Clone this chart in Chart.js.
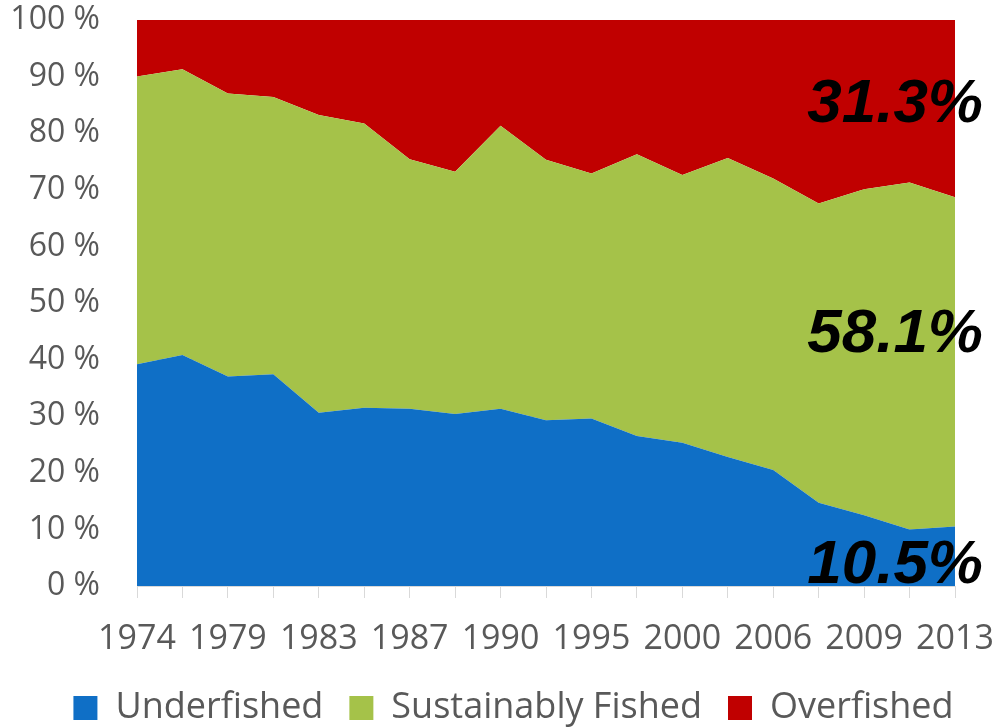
<!DOCTYPE html>
<html>
<head>
<meta charset="utf-8">
<script src="https://cdn.jsdelivr.net/npm/chart.js@4/dist/chart.umd.min.js"></script>
<style>
  html, body { margin: 0; padding: 0; background: #ffffff; }
  #wrap { width: 994px; height: 727px; position: relative; }
</style>
</head>
<body>
<div id="wrap"><canvas id="c"></canvas></div>
<script>
// ---- data ----
const years = ["1974","1977","1979","1981","1983","1985","1987","1989","1990","1992",
               "1995","1997","2000","2004","2006","2008","2009","2011","2013"];
const tickLabels = ["1974","1979","1983","1987","1990","1995","2000","2006","2009","2013"];
const underfished = [39.2, 40.8, 37.0, 37.4, 30.6, 31.5, 31.3, 30.4, 31.3, 29.3,
                     29.6, 26.5, 25.3, 22.8, 20.5, 14.7, 12.5, 10.0, 10.5];
const sustainablyFished = [50.8, 50.5, 50.0, 49.0, 52.6, 50.2, 44.1, 42.8, 50.0, 46.0,
                           43.3, 49.8, 47.3, 52.8, 51.5, 52.9, 57.6, 61.3, 58.2];
const overfished = [10.0, 8.7, 13.0, 13.6, 16.8, 18.3, 24.6, 26.8, 18.7, 24.7,
                    27.1, 23.7, 27.4, 24.4, 28.0, 32.4, 29.9, 28.7, 31.3];
const seriesNames = ["Underfished", "Sustainably Fished", "Overfished"];
const yTicks = [0, 10, 20, 30, 40, 50, 60, 70, 80, 90, 100];
const endLabels = ["31.3%", "58.1%", "10.5%"];
const endLabelLevels = [82, 41.3, 0.5];   // y value of each label's baseline

const colors = ["#0F6FC6", "#A5C249", "#C00000"];
const gray = "#595959";

const endLabelPlugin = {
  id: 'endLabels',
  afterLayout(chart) {
    // shift the legend to the right, as in the reference
    const lg = chart.legend;
    if (lg) { lg.left += 36; lg.right += 36; }
  },
  afterDatasetsDraw(chart) {
    const ctx = chart.ctx, y = chart.scales.y, area = chart.chartArea;
    ctx.save();
    ctx.font = 'italic bold 62px "Liberation Sans", Arial, sans-serif';
    ctx.fillStyle = '#000000';
    ctx.textAlign = 'right';
    ctx.textBaseline = 'alphabetic';
    endLabels.forEach((t, i) => {
      ctx.fillText(t, area.right + 28, y.getPixelForValue(endLabelLevels[i]));
    });
    ctx.restore();
  }
};

const mkSet = (label, data, color, fill) => ({
  label, data, fill,
  backgroundColor: color, borderColor: color, borderWidth: 0,
  pointRadius: 0, pointHoverRadius: 0, tension: 0
});

new Chart(document.getElementById('c'), {
  type: 'line',
  data: {
    labels: years,
    datasets: [
      mkSet(seriesNames[0], underfished, colors[0], 'origin'),
      mkSet(seriesNames[1], sustainablyFished, colors[1], '-1'),
      mkSet(seriesNames[2], overfished, colors[2], '-1')
    ]
  },
  options: {
    responsive: true,
    maintainAspectRatio: false,
    animation: false,
    layout: { padding: { left: 0, right: 39, top: 20, bottom: -9 } },
    plugins: {
      legend: {
        position: 'bottom',
        labels: {
          boxWidth: 24, boxHeight: 24, padding: 26,
          color: gray,
          font: { family: '"Open Sans", sans-serif', size: 36 }
        }
      },
      tooltip: { enabled: false }
    },
    scales: {
      x: {
        offset: false,
        afterFit: (s) => { s.paddingLeft = 0; s.paddingRight = 0; s.height = 78; },
        grid: { drawOnChartArea: false, drawTicks: true, tickLength: 12, color: '#D9D9D9' },
        border: { color: '#D9D9D9' },
        ticks: {
          autoSkip: false, maxRotation: 0, padding: 21, color: gray,
          font: { family: '"Open Sans", sans-serif', size: 34 },
          callback: (v, i) => tickLabels.includes(years[i]) ? years[i] : ''
        }
      },
      y: {
        stacked: true, min: 0, max: 100,
        afterBuildTicks: (s) => { s.ticks = yTicks.map(v => ({ value: v })); },
        afterFit: (s) => { s.width = 137; s.paddingTop = 0; s.paddingBottom = 0; },
        grid: { drawTicks: false, color: '#D9D9D9' },
        border: { color: '#D9D9D9' },
        ticks: {
          padding: 37, color: gray,
          font: { family: '"Open Sans", sans-serif', size: 32 },
          callback: (v) => v + ' %'
        }
      }
    }
  },
  plugins: [endLabelPlugin]
});
</script>
</body>
</html>
